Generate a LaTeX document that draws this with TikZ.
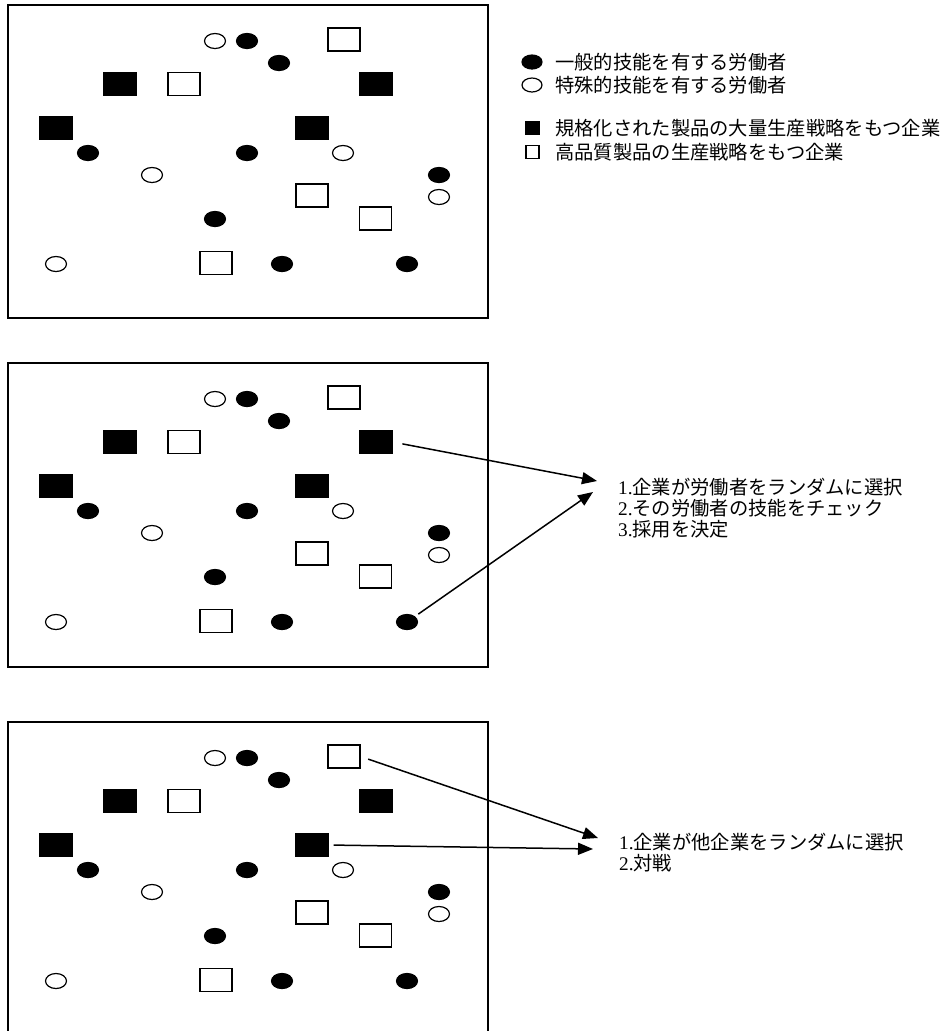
\documentclass[tikz,border=0pt]{standalone}
\usepackage{fontspec}
\setmainfont{Liberation Serif}
\newfontfamily\cjk{Noto Sans CJK JP}
\usetikzlibrary{shapes.geometric,arrows.meta}
\tikzset{
  wk/.style={ellipse,draw,line width=1.2pt,minimum width=21pt,minimum height=15pt,inner sep=0pt},
  wkg/.style={wk,fill=black},
  wks/.style={wk,fill=white},
  fm/.style={rectangle,draw,line width=1.2pt,minimum width=32pt,minimum height=23pt,inner sep=0pt},
  fmm/.style={fm,fill=black},
  fmq/.style={fm,fill=white},
  lgo/.style={ellipse,draw,line width=1.2pt,minimum width=20pt,minimum height=14pt,inner sep=0pt},
  lgr/.style={rectangle,draw,line width=1.2pt,minimum width=13pt,minimum height=13pt,inner sep=0pt},
  panel/.style={draw,line width=1.4pt},
  arr/.style={draw,line width=1.5pt,-{Triangle[length=15pt,width=12pt]}},
  lbl/.style={anchor=west,inner sep=0pt,font=\fontsize{19.3pt}{21pt}\selectfont,align=left},
}
\newcommand\shapeset[2]{%
  \node[wks] (#2o1) at (215,{41+#1}) {};
  \node[wks] (#2o2) at (343,{153+#1}) {};
  \node[wks] (#2o3) at (152,{175+#1}) {};
  \node[wks] (#2o4) at (439,{197+#1}) {};
  \node[wks] (#2o5) at (56,{264+#1}) {};
  \node[wkg] (#2f1) at (247,{41+#1}) {};
  \node[wkg] (#2f2) at (279,{63+#1}) {};
  \node[wkg] (#2f3) at (88,{153+#1}) {};
  \node[wkg] (#2f4) at (247,{153+#1}) {};
  \node[wkg] (#2f5) at (439,{175+#1}) {};
  \node[wkg] (#2f6) at (215,{219+#1}) {};
  \node[wkg] (#2f7) at (282,{264+#1}) {};
  \node[wkg] (#2f8) at (407,{264+#1}) {};
  \node[fmm] (#2m1) at (120,{84+#1}) {};
  \node[fmm] (#2m2) at (376,{84+#1}) {};
  \node[fmm] (#2m3) at (56,{128+#1}) {};
  \node[fmm] (#2m4) at (312,{128+#1}) {};
  \node[fmq] (#2q1) at (344,{39.5+#1}) {};
  \node[fmq] (#2q2) at (184,{84+#1}) {};
  \node[fmq] (#2q3) at (312,{195.5+#1}) {};
  \node[fmq] (#2q4) at (375.5,{218.5+#1}) {};
  \node[fmq] (#2q5) at (216,{263+#1}) {};
}
\begin{document}
\begin{tikzpicture}[x=1pt,y=-1pt]
\useasboundingbox (0,0) rectangle (948,1031);
% panels
\draw[panel] (8,5) rectangle (488,318);
\draw[panel] (8,363) rectangle (488,667);
\draw[panel] (8,1031) -- (8,722) -- (488,722) -- (488,1031);
\shapeset{0}{a}
\shapeset{358}{b}
\shapeset{717}{c}
% legend
\node[lgo,fill=black] (lg1) at (532,62) {};
\node[lgo,fill=white] (lg2) at (532,85) {};
\node[lgr,fill=black] (lg3) at (532.5,128) {};
\node[lgr,fill=white] (lg4) at (532.5,152) {};
\node[lbl] (lt1) at (555,62) {\cjk 一般的技能を有する労働者};
\node[lbl] (lt2) at (555,85) {\cjk 特殊的技能を有する労働者};
\node[lbl] (lt3) at (555,128) {\cjk 規格化された製品の大量生産戦略をもつ企業};
\node[lbl] (lt4) at (555,152) {\cjk 高品質製品の生産戦略をもつ企業};
% panel 2 text and arrows
\node[lbl] (t2) at (618,508) {1.{\cjk 企業が労働者をランダムに選択}\\2.{\cjk その労働者の技能をチェック}\\3.{\cjk 採用を決定}};
\coordinate (tip2a) at (597,481);
\coordinate (tip2b) at (593,492);
\draw[arr,shorten <=10pt] (bm2.east) -- (tip2a);
\draw[arr,shorten <=4pt] (bf8) -- (tip2b);
% panel 3 text and arrows
\node[lbl] (t3) at (619,852.5) {1.{\cjk 企業が他企業をランダムに選択}\\2.{\cjk 対戦}};
\coordinate (tip3a) at (598,838);
\coordinate (tip3b) at (593,849);
\draw[arr,shorten <=8pt] (cq1.east) -- (tip3a);
\draw[arr,shorten <=5pt] (cm4.east) -- (tip3b);
\end{tikzpicture}
\end{document}
